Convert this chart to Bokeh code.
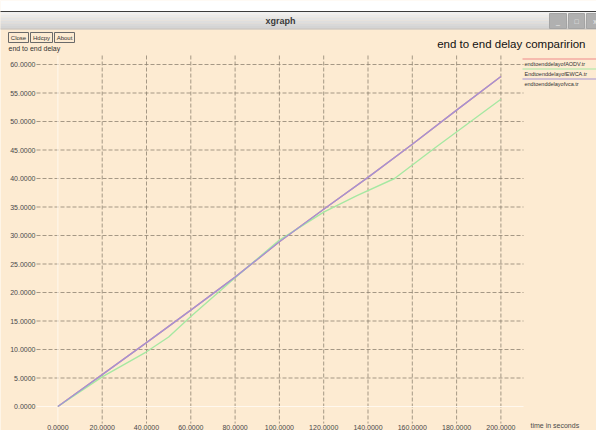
from bokeh.plotting import figure
from bokeh.models import Range1d
from bokeh.core.properties import value
from bokeh.embed import file_html
from bokeh.resources import INLINE

# ---------------- data ----------------
series_names = ["endtoenddelayofAODV.tr", "EndtoenddelayofEWCA.tr", "endtoenddelayofvca.tr"]
series_colors = ["#f08a8a", "#a6e8a2", "#a393d4"]

time_aodv = [0, 20, 40, 60, 80, 100, 120, 140, 160, 180, 200]
delay_aodv = [0.0, 5.6, 11.2, 16.9, 22.7, 28.9, 34.6, 40.2, 46.0, 52.0, 57.9]

time_ewca = [0, 20, 40, 50, 60, 80, 100, 120, 135, 152, 170, 185, 200]
delay_ewca = [0.0, 5.2, 9.6, 12.2, 15.8, 22.6, 29.2, 34.1, 37.0, 40.0, 45.3, 49.6, 53.9]

time_vca = [0, 20, 40, 60, 80, 100, 120, 140, 160, 180, 200]
delay_vca = [0.0, 5.6, 11.2, 16.9, 22.7, 28.9, 34.6, 40.2, 46.0, 52.0, 57.9]

x_ticks = [0, 20, 40, 60, 80, 100, 120, 140, 160, 180, 200]
x_tick_labels = ["0.0000", "20.0000", "40.0000", "60.0000", "80.0000", "100.0000",
                 "120.0000", "140.0000", "160.0000", "180.0000", "200.0000"]
y_ticks = [0, 5, 10, 15, 20, 25, 30, 35, 40, 45, 50, 55, 60]
y_tick_labels = ["0.0000", "5.0000", "10.0000", "15.0000", "20.0000", "25.0000", "30.0000",
                 "35.0000", "40.0000", "45.0000", "50.0000", "55.0000", "60.0000"]

chart_title = "end to end delay comparirion"
y_label = "end to end delay"
x_label = "time in seconds"
window_title = "xgraph"
button_labels = ["Close", "Hdcpy", "About"]

# ---------------- geometry (screen mapping) ----------------
FIG_W, FIG_H = 596, 430
OFF = 0
X0_PX, X_PX_PER = 57.4, 2.215   # where x=0 is drawn, px per second
Y0_PX, Y_PX_PER = 406.0, 5.7    # where y=0 is drawn, px per unit

X_START = (OFF - X0_PX) / X_PX_PER
X_END = (OFF + FIG_W - X0_PX) / X_PX_PER
Y_TOP = (Y0_PX - OFF) / Y_PX_PER
Y_BOT = (Y0_PX - OFF - FIG_H) / Y_PX_PER


def dx(px):
    return X_START + (px - OFF) * (X_END - X_START) / FIG_W


def dy(py):
    return Y_TOP - (py - OFF) * (Y_TOP - Y_BOT) / FIG_H


FONT = value("Liberation Sans")
BG = "#fdebd2"

p = figure(width=FIG_W, height=FIG_H, output_backend="svg", toolbar_location=None,
           x_range=Range1d(X_START, X_END), y_range=Range1d(Y_BOT, Y_TOP),
           min_border=0, background_fill_color=BG, border_fill_color=BG)
p.axis.visible = False
p.grid.visible = False
p.outline_line_color = None

# ---------------- window chrome ----------------
p.quad(left=[dx(-5)], right=[dx(605)], top=[dy(-5)], bottom=[dy(10.5)], fill_color="white", line_color=None)
p.quad(left=[dx(-5)], right=[dx(605)], top=[dy(10.5)], bottom=[dy(11.5)], fill_color="#3c3c3c", line_color=None)
bands = ["#f0f0f0", "#eaeaea", "#e4e4e4", "#dedede", "#d8d8d8", "#d4d4d4"]
for i, c in enumerate(bands):
    p.quad(left=[dx(-5)], right=[dx(605)], top=[dy(11.5 + i * 2.8)], bottom=[dy(11.5 + (i + 1) * 2.8)],
           fill_color=c, line_color=None)
p.segment(x0=[dx(-5)], x1=[dx(605)], y0=[dy(28.5)], y1=[dy(28.5)], line_color="#bcbcbc", line_width=1)
p.text(x=[dx(280)], y=[dy(20)], text=[window_title], text_font=FONT, text_font_size="9px",
       text_font_style="bold", text_align="center", text_baseline="middle", text_color="#3a3a3a")
# window buttons
for (l, r), g in zip([(549, 566), (568, 584), (586, 603)], ["_", "\u25a1", "x"]):
    p.quad(left=[dx(l)], right=[dx(r)], top=[dy(13)], bottom=[dy(28)], fill_color="#b0b0b0",
           line_color="#a4a4a4")
    p.text(x=[dx((l + r) / 2)], y=[dy(20.5)], text=[g], text_font=FONT, text_font_size="7px",
           text_align="center", text_baseline="middle", text_color="#eeeeee")

# xgraph buttons
for (l, r), lab in zip([(8, 28), (30, 52), (54, 74)], button_labels):
    p.quad(left=[dx(l)], right=[dx(r)], top=[dy(32)], bottom=[dy(42)], fill_color=BG,
           line_color="#6a6a6a", line_width=1)
    p.text(x=[dx((l + r) / 2)], y=[dy(37.2)], text=[lab], text_font=FONT, text_font_size="6px",
           text_align="center", text_baseline="middle", text_color="#333333")

p.text(x=[dx(8)], y=[dy(48)], text=[y_label], text_font=FONT, text_font_size="7px",
       text_align="left", text_baseline="middle", text_color="#333333")
p.text(x=[dx(585)], y=[dy(43)], text=[chart_title], text_font=FONT, text_font_size="11.5px",
       text_align="right", text_baseline="middle", text_color="#111111")

# ---------------- grid ----------------
GRID_C = "#8f8372"
hy = [v for v in y_ticks if v != 0]
p.segment(x0=[dx(36)] * len(hy), x1=[dx(523)] * len(hy), y0=hy, y1=hy,
          line_color=GRID_C, line_dash="4 2", line_width=1, line_alpha=0.8)
vx = [v for v in x_ticks if v != 0]
p.segment(x0=vx, x1=vx, y0=[dy(55)] * len(vx), y1=[dy(423)] * len(vx),
          line_color=GRID_C, line_dash="4 2", line_width=1, line_alpha=0.8)
# zero lines drawn faint
p.segment(x0=[dx(36)], x1=[dx(523)], y0=[0], y1=[0], line_color="#fff8ee", line_width=1)
p.segment(x0=[0], x1=[0], y0=[dy(55)], y1=[dy(423)], line_color="#fff8ee", line_width=1)

# tick labels
p.text(x=[dx(35)] * len(y_ticks), y=y_ticks, text=y_tick_labels, text_font=FONT,
       text_font_size="7px", text_align="right", text_baseline="middle", text_color="#4a4a4a")
p.text(x=x_ticks, y=[dy(429)] * len(x_ticks), text=x_tick_labels, text_font=FONT,
       text_font_size="7px", text_align="center", text_baseline="bottom", text_color="#4a4a4a")
p.text(x=[dx(530)], y=[dy(428)], text=[x_label], text_font=FONT, text_font_size="7px",
       text_align="left", text_baseline="bottom", text_color="#4a4a4a")

# ---------------- series ----------------
p.line(time_aodv, delay_aodv, line_color=series_colors[0], line_width=1.4)
p.line(time_ewca, delay_ewca, line_color=series_colors[1], line_width=1.4)
p.line(time_vca, delay_vca, line_color=series_colors[2], line_width=1.4)

# legend (xgraph style: line above each name)
for i, (name, col) in enumerate(zip(series_names, series_colors)):
    ly = 58.5 + i * 10
    p.segment(x0=[dx(522)], x1=[dx(605)], y0=[dy(ly)], y1=[dy(ly)], line_color=col, line_width=1.2)
    p.text(x=[dx(524)], y=[dy(ly + 4.5)], text=[name], text_font=FONT, text_font_size="5.5px",
           text_align="left", text_baseline="middle", text_color="#333333")

open("out.html", "w").write(file_html(p, INLINE))
